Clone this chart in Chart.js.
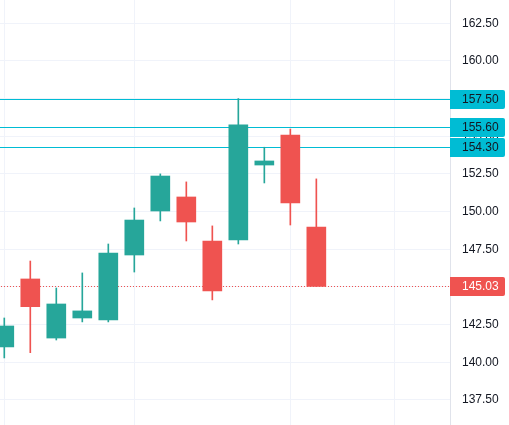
<!DOCTYPE html>
<html>
<head>
<meta charset="utf-8">
<script src="https://cdn.jsdelivr.net/npm/chart.js@4.4.0/dist/chart.umd.min.js"></script>
<style>
  html, body { margin: 0; padding: 0; background: #ffffff; }
  #wrap { width: 509px; height: 425px; }
</style>
</head>
<body>
<div id="wrap"><canvas id="candles"></canvas></div>
<script>
// candle data (one entry per bar)
const opens  = [141.02, 145.53, 141.61, 142.94, 142.81, 147.12, 150.04, 150.97, 148.05, 148.12, 153.09, 155.08, 148.98];
const highs  = [142.94, 146.72, 144.93, 145.93, 147.85, 150.24, 152.50, 151.97, 149.05, 157.50, 154.27, 155.48, 152.17];
const lows   = [140.29, 140.64, 141.48, 142.68, 142.68, 145.99, 149.38, 148.05, 144.14, 147.85, 151.90, 149.11, 145.03];
const closes = [142.41, 143.69, 143.87, 143.41, 147.25, 149.44, 152.36, 149.31, 144.73, 155.75, 153.36, 150.57, 145.03];

const priceTicks = [137.5, 140, 142.5, 145, 147.5, 150, 152.5, 155, 157.5, 160, 162.5];
const timeGridAt = [0, 5, 11, 15];
const levels = [157.5, 155.6, 154.3];
const lastPrice = 145.03;

const UP = '#26a69a';
const DOWN = '#ef5350';
const LEVEL = '#00bcd4';
const FONT = '"Liberation Sans", Arial, sans-serif';

const idx = opens.map((_, i) => i);
const colours = idx.map(i => closes[i] >= opens[i] ? UP : DOWN);

// horizontal price lines + the boxes on the price axis
const priceLines = {
    id: 'priceLines',
    beforeDatasetsDraw(chart) {
        const { ctx, chartArea: a, scales: { y } } = chart;
        ctx.save();
        ctx.fillStyle = LEVEL;
        levels.forEach(v => {
            const py = Math.round(y.getPixelForValue(v));
            ctx.fillRect(a.left, py, a.right - a.left, 1);
        });
        // dotted last-price line
        const py = Math.round(y.getPixelForValue(lastPrice));
        ctx.fillStyle = DOWN;
        for (let x = a.left + 1; x < a.right; x += 3) {
            ctx.fillRect(x, py, 1, 1);
        }
        ctx.restore();
    },
    afterDraw(chart) {
        const { ctx, chartArea: a, scales: { y } } = chart;
        const boxW = chart.width - a.right - 4;
        const drawBox = (v, bg, fg) => {
            const py = Math.round(y.getPixelForValue(v));
            ctx.fillStyle = bg;
            ctx.beginPath();
            ctx.roundRect(a.right, py - 9, boxW, 19, [0, 2, 2, 0]);
            ctx.fill();
            ctx.fillStyle = fg;
            ctx.font = '12px ' + FONT;
            ctx.textAlign = 'left';
            ctx.textBaseline = 'middle';
            ctx.fillText(v.toFixed(2), a.right + 12, py + 1);
        };
        ctx.save();
        levels.forEach(v => drawBox(v, LEVEL, '#131722'));
        drawBox(lastPrice, DOWN, '#ffffff');
        ctx.restore();
    }
};

const noPad = s => { s.paddingTop = 0; s.paddingBottom = 0; s.paddingLeft = 0; s.paddingRight = 0; };

new Chart(document.getElementById('candles'), {
    type: 'bar',
    data: {
        datasets: [{
            label: 'wick',
            data: idx.map(i => ({ x: i, y: [lows[i], highs[i]] })),
            backgroundColor: colours,
            barThickness: 1,
            borderSkipped: false,
            grouped: false,
            order: 2
        }, {
            label: 'body',
            data: idx.map(i => ({ x: i, y: [opens[i], closes[i]] })),
            backgroundColor: colours,
            barThickness: 19,
            borderSkipped: false,
            grouped: false,
            order: 1
        }]
    },
    options: {
        responsive: true,
        maintainAspectRatio: false,
        animation: false,
        layout: { padding: 0 },
        plugins: {
            legend: { display: false },
            tooltip: { enabled: false }
        },
        scales: {
            x: {
                type: 'linear',
                min: -0.165,
                max: 17.14,
                offset: false,
                afterBuildTicks: s => { s.ticks = timeGridAt.map(v => ({ value: v })); },
                afterFit: s => { s.height = 0; noPad(s); },
                grid: { color: '#f0f3fa', drawTicks: false, offset: false },
                border: { display: false },
                ticks: { display: false }
            },
            y: {
                position: 'right',
                min: 135.84,
                max: 164.04,
                afterBuildTicks: s => { s.ticks = priceTicks.map(v => ({ value: v })); },
                afterFit: s => { s.width = 59; noPad(s); },
                grid: { color: '#f0f3fa', drawTicks: false },
                border: { color: '#e0e3eb' },
                ticks: {
                    padding: 12,
                    color: '#131722',
                    font: { family: FONT, size: 12 },
                    callback: v => v.toFixed(2)
                }
            }
        }
    },
    plugins: [priceLines]
});
</script>
</body>
</html>
